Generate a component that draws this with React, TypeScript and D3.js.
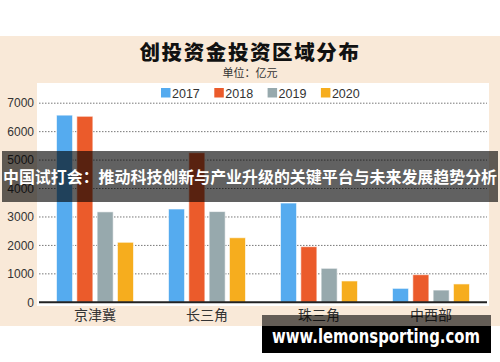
import * as d3 from 'd3';

// chart data
const regions = ['京津冀', '长三角', '珠三角', '中西部'];
const years = ['2017', '2018', '2019', '2020'];
const v2017 = [6580, 3280, 3490, 490];
const v2018 = [6540, 5260, 1955, 970];
const v2019 = [3180, 3190, 1195, 430];
const v2020 = [2110, 2270, 750, 645];
const yTicks = [0, 1000, 2000, 3000, 4000, 5000, 6000, 7000];
const colors = ['#55ABEF', '#EB5B2B', '#97A9AD', '#F6AD1E'];

const series = [v2017, v2018, v2019, v2020];

const W = 500;
const H = 362;
const FONT = "'Noto Sans CJK SC', 'Noto Sans', sans-serif";

export default function App() {
  // plot area
  const left = 39;
  const right = 487;
  const x = d3.scaleBand<string>().domain(regions).range([left, right]).paddingInner(0).paddingOuter(0);
  const xInner = d3.scaleBand<string>().domain(years).range([17.5, 112 - 17.5]).paddingInner(0.21);
  const y = d3.scaleLinear().domain([0, 7000]).range([302.3, 103.2]);

  return (
    <svg width={W} height={H} style={{ position: 'absolute', left: 0, top: 0 }} fontFamily={FONT}>
      <rect x={0} y={0} width={W} height={H} fill="#fff" />
      {/* beige card */}
      <rect x={0} y={36} width={W} height={290} fill="#F9E9D8" />
      <text x={250} y={60} textAnchor="middle" fontSize={20.5} fontWeight={900} letterSpacing={1.6} fill="#111">
        创投资金投资区域分布
      </text>
      <text x={250} y={77} textAnchor="middle" fontSize={11} fill="#333">
        单位：亿元
      </text>
      {/* white plot panel */}
      <rect x={37} y={83} width={452} height={223} fill="#fff" />

      {/* legend */}
      {years.map((yr, i) => (
        <g key={yr} transform={`translate(${161 + i * 53.3},88)`}>
          <rect x={0} y={0} width={9.5} height={9.5} fill={colors[i]} />
          <text x={11} y={9.6} fontSize={12.5} fill="#333" fontFamily="'Liberation Sans', Arial, sans-serif">
            {yr}
          </text>
        </g>
      ))}

      {/* grid + y labels */}
      {yTicks.map((t) => (
        <g key={t}>
          {t > 0 && (
            <line x1={left} x2={right} y1={y(t)} y2={y(t)} stroke="#777" strokeWidth={1} strokeDasharray="1.5,1.5" />
          )}
          <text
            x={34}
            y={y(t)}
            dy="0.35em"
            textAnchor="end"
            fontSize={12}
            fill="#333"
            fontFamily="'Liberation Sans', Arial, sans-serif"
          >
            {t}
          </text>
        </g>
      ))}

      {/* bars */}
      {regions.map((r, ri) => (
        <g key={r} transform={`translate(${x(r)},0)`}>
          {series.map((s, si) => (
            <rect
              key={si}
              x={xInner(years[si])}
              y={y(s[ri])}
              width={xInner.bandwidth()}
              height={y(0) - y(s[ri])}
              fill={colors[si]}
              stroke="#fff"
              strokeOpacity={0.6}
              strokeWidth={1}
            />
          ))}
          <text x={x.bandwidth() / 2} y={320} textAnchor="middle" fontSize={14} fill="#333">
            {r}
          </text>
        </g>
      ))}

      {/* baseline */}
      <line x1={left} x2={right} y1={y(0)} y2={y(0)} stroke="#222" strokeWidth={2} />

      {/* banner overlay */}
      <rect x={2} y={151} width={496} height={51} fill="#000" fillOpacity={0.62} />
      <text x={3} y={182.5} fontSize={16.4} fontWeight={700} fill="#fff" textLength={494} lengthAdjust="spacingAndGlyphs">
        中国试打会：推动科技创新与产业升级的关键平台与未来发展趋势分析
      </text>

      {/* watermark */}
      <rect x={262} y={315} width={229} height={11} fill="#000" fillOpacity={0.6} />
      <rect x={262} y={326} width={229} height={27} fill="#000" />
      <text
        x={376}
        y={343}
        textAnchor="middle"
        fontSize={20}
        fontWeight={700}
        fill="#fff"
        fontFamily="'DejaVu Sans', sans-serif"
        textLength={208}
        lengthAdjust="spacingAndGlyphs"
      >
        www.lemonsporting.com
      </text>
    </svg>
  );
}
